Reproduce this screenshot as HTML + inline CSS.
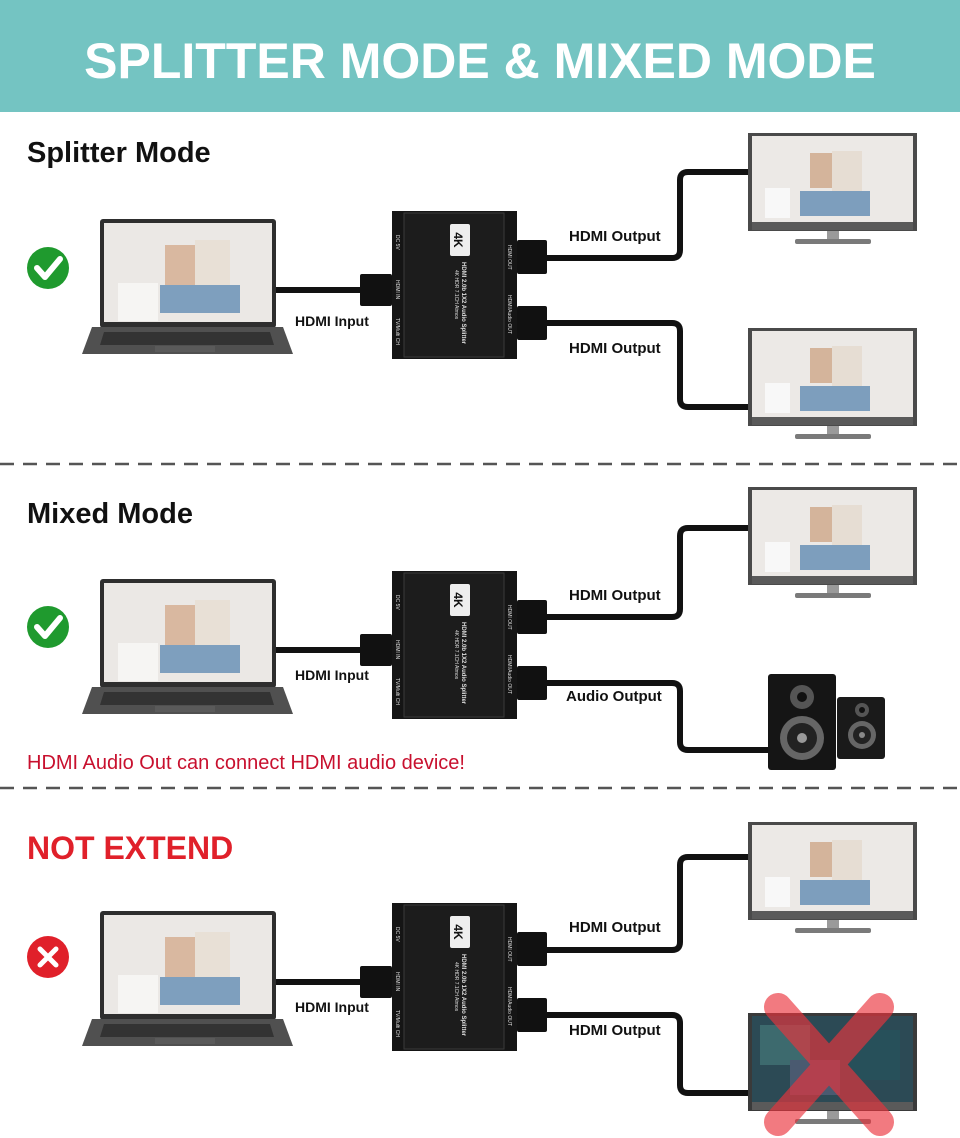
<!DOCTYPE html>
<html><head><meta charset="utf-8"><style>
html,body{margin:0;padding:0;background:#fff;}
svg{display:block;font-family:"Liberation Sans",Arial,sans-serif;}
</style></head><body>
<svg width="960" height="1138" viewBox="0 0 960 1138" xmlns="http://www.w3.org/2000/svg">
<defs>
  <g id="laptop">
    <rect x="100" y="219" width="176" height="109" rx="3" fill="#2e2e2e"/>
    <rect x="104" y="223" width="168" height="99" fill="#ebe8e5"/>
    <rect x="118" y="283" width="40" height="38" fill="#f6f5f3"/>
    <rect x="165" y="245" width="30" height="40" fill="#d9b8a0"/>
    <rect x="195" y="240" width="35" height="50" fill="#e8e0d6"/>
    <rect x="160" y="285" width="80" height="28" fill="#7e9fbe"/>
    <polygon points="92,327 283,327 293,354 82,354" fill="#505050"/>
    <polygon points="104,332 270,332 274,345 100,345" fill="#333"/>
    <rect x="155" y="346" width="60" height="6" fill="#5a5a5a"/>
  </g>
  <g id="splitter">
    <rect x="392" y="211" width="125" height="148" fill="#151515"/>
    <rect x="404" y="213" width="100" height="144" fill="#1c1c1c" stroke="#3a3a3a" stroke-width="1"/>
    <rect x="450" y="224" width="20" height="32" rx="2" fill="#eee"/>
    <text x="460" y="246" font-size="12" font-weight="bold" fill="#111" text-anchor="middle" transform="rotate(90 460 240)">4K</text>
    <text x="0" y="0" font-size="5" fill="#ddd" transform="translate(396,235) rotate(90)">DC 5V</text>
    <text x="0" y="0" font-size="5" fill="#ddd" transform="translate(396,280) rotate(90)">HDMI IN</text>
    <text x="0" y="0" font-size="5" fill="#ddd" transform="translate(396,318) rotate(90)">TV/Multi CH</text>
    <text x="0" y="0" font-size="6" font-weight="bold" fill="#ddd" transform="translate(462,262) rotate(90)">HDMI 2.0b 1X2 Audio Splitter</text>
    <text x="0" y="0" font-size="5" fill="#ddd" transform="translate(455,270) rotate(90)">4K HDR 7.1CH Atmos</text>
    <text x="0" y="0" font-size="5" fill="#ddd" transform="translate(508,245) rotate(90)">HDMI OUT</text>
    <text x="0" y="0" font-size="5" fill="#ddd" transform="translate(508,295) rotate(90)">HDMI/Audio OUT</text>
    <rect x="360" y="274" width="32" height="32" rx="2" fill="#111"/>
    <rect x="517" y="240" width="30" height="34" rx="2" fill="#111"/>
    <rect x="517" y="306" width="30" height="34" rx="2" fill="#111"/>
    <line x1="276" y1="290" x2="360" y2="290" stroke="#111" stroke-width="6"/>
  </g>
  <g id="monitor">
    <rect x="748" y="0" width="169" height="98" fill="#4a4a4a"/>
    <rect x="752" y="3" width="161" height="86" fill="#ece9e6"/>
    <rect x="765" y="55" width="25" height="30" fill="#f8f8f8"/>
    <rect x="810" y="20" width="25" height="35" fill="#d4b49b"/>
    <rect x="832" y="18" width="30" height="45" fill="#e6ddd3"/>
    <rect x="800" y="58" width="70" height="25" fill="#7d9ebd"/>
    <rect x="752" y="89" width="161" height="8" fill="#5a5a5a"/>
    <rect x="827" y="98" width="12" height="8" fill="#9a9a9a"/>
    <rect x="795" y="106" width="76" height="5" rx="2" fill="#7a7a7a"/>
  </g>
</defs>

<rect x="0" y="0" width="960" height="112" fill="#74c4c2"/>
<text x="480" y="78" font-size="50" font-weight="bold" fill="#fff" text-anchor="middle">SPLITTER MODE &amp; MIXED MODE</text>

<!-- Section 1 -->
<text x="27" y="162" font-size="29" font-weight="bold" fill="#111">Splitter Mode</text>
<circle cx="48" cy="268" r="21" fill="#1f9a2e"/>
<path d="M37 268 L45 277 L60 259" stroke="#fff" stroke-width="6" fill="none" stroke-linecap="round" stroke-linejoin="round"/>
<use href="#laptop"/>
<use href="#splitter"/>
<path d="M547 258 H672 Q680 258 680 250 V180 Q680 172 688 172 H748" stroke="#111" stroke-width="6" fill="none"/>
<path d="M547 323 H672 Q680 323 680 331 V399 Q680 407 688 407 H748" stroke="#111" stroke-width="6" fill="none"/>
<use href="#monitor" transform="translate(0,133)"/>
<use href="#monitor" transform="translate(0,328)"/>
<text x="569" y="241" font-size="15" font-weight="bold" fill="#111">HDMI Output</text>
<text x="569" y="353" font-size="15" font-weight="bold" fill="#111">HDMI Output</text>
<text x="295" y="326" font-size="14" font-weight="bold" fill="#111">HDMI Input</text>

<line x1="0" y1="464" x2="960" y2="464" stroke="#555" stroke-width="2.5" stroke-dasharray="14,9"/>

<!-- Section 2 -->
<text x="27" y="523" font-size="29" font-weight="bold" fill="#111">Mixed Mode</text>
<circle cx="48" cy="627" r="21" fill="#1f9a2e"/>
<path d="M37 627 L45 636 L60 618" stroke="#fff" stroke-width="6" fill="none" stroke-linecap="round" stroke-linejoin="round"/>
<g transform="translate(0,360)">
  <use href="#laptop"/>
  <use href="#splitter"/>
</g>
<path d="M547 617 H672 Q680 617 680 609 V536 Q680 528 688 528 H748" stroke="#111" stroke-width="6" fill="none"/>
<path d="M547 683 H672 Q680 683 680 691 V742 Q680 750 688 750 H770" stroke="#111" stroke-width="6" fill="none"/>
<use href="#monitor" transform="translate(0,487)"/>
<text x="569" y="600" font-size="15" font-weight="bold" fill="#111">HDMI Output</text>
<text x="566" y="701" font-size="15" font-weight="bold" fill="#111">Audio Output</text>
<text x="295" y="680" font-size="14" font-weight="bold" fill="#111">HDMI Input</text>
<!-- speakers -->
<rect x="837" y="697" width="48" height="62" rx="3" fill="#1a1a1a"/>
<circle cx="862" cy="710" r="7" fill="#555"/><circle cx="862" cy="710" r="3" fill="#111"/>
<circle cx="862" cy="735" r="14" fill="#666"/><circle cx="862" cy="735" r="9" fill="#222"/><circle cx="862" cy="735" r="3" fill="#888"/>
<rect x="768" y="674" width="68" height="96" rx="3" fill="#151515"/>
<circle cx="802" cy="697" r="12" fill="#555"/><circle cx="802" cy="697" r="5" fill="#111"/>
<circle cx="802" cy="738" r="22" fill="#666"/><circle cx="802" cy="738" r="15" fill="#222"/><circle cx="802" cy="738" r="5" fill="#999"/>
<text x="27" y="769" font-size="20" fill="#c8102e">HDMI Audio Out can connect HDMI audio device!</text>

<line x1="0" y1="788" x2="960" y2="788" stroke="#555" stroke-width="2.5" stroke-dasharray="14,9"/>

<!-- Section 3 -->
<text x="27" y="859" font-size="32" font-weight="bold" fill="#e0202a">NOT EXTEND</text>
<circle cx="48" cy="957" r="21" fill="#e0202a"/>
<path d="M40 949 L56 965 M56 949 L40 965" stroke="#fff" stroke-width="5" stroke-linecap="round"/>
<g transform="translate(0,692)">
  <use href="#laptop"/>
  <use href="#splitter"/>
</g>
<path d="M547 950 H672 Q680 950 680 942 V865 Q680 857 688 857 H748" stroke="#111" stroke-width="6" fill="none"/>
<path d="M547 1015 H672 Q680 1015 680 1023 V1085 Q680 1093 688 1093 H748" stroke="#111" stroke-width="6" fill="none"/>
<use href="#monitor" transform="translate(0,822)"/>
<!-- game monitor -->
<rect x="748" y="1013" width="169" height="98" fill="#3a3a3a"/>
<rect x="752" y="1016" width="161" height="86" fill="#2c4a55"/>
<rect x="760" y="1025" width="50" height="40" fill="#3d6a6e"/>
<rect x="840" y="1030" width="60" height="50" fill="#27505a"/>
<rect x="790" y="1060" width="50" height="35" fill="#4a5a70"/>
<rect x="752" y="1102" width="161" height="8" fill="#5a5a5a"/>
<rect x="827" y="1111" width="12" height="8" fill="#9a9a9a"/>
<rect x="795" y="1119" width="76" height="5" rx="2" fill="#7a7a7a"/>
<path d="M778 1007 L880 1122 M880 1007 L778 1122" stroke="rgba(235,50,60,0.65)" stroke-width="28" stroke-linecap="round"/>
<text x="569" y="932" font-size="15" font-weight="bold" fill="#111">HDMI Output</text>
<text x="569" y="1035" font-size="15" font-weight="bold" fill="#111">HDMI Output</text>
<text x="295" y="1012" font-size="14" font-weight="bold" fill="#111">HDMI Input</text>
</svg>
</body></html>
